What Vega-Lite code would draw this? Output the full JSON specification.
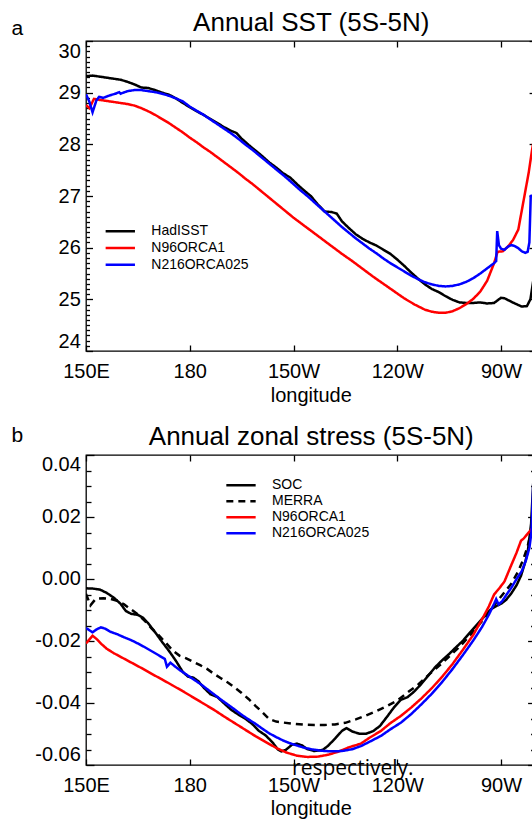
{
  "$schema": "https://vega.github.io/schema/vega-lite/v6.json",
  "background": "white",
  "padding": {"left": 10, "top": 8, "right": 0, "bottom": 0},
  "spacing": 16,
  "datasets": {
    "sst": [
      {"series": "HadISST", "lon": 150, "sst": 29.32}, {"series": "HadISST", "lon": 152, "sst": 29.33}, {"series": "HadISST", "lon": 154, "sst": 29.31},
      {"series": "HadISST", "lon": 156, "sst": 29.29}, {"series": "HadISST", "lon": 158, "sst": 29.27}, {"series": "HadISST", "lon": 160, "sst": 29.25},
      {"series": "HadISST", "lon": 162, "sst": 29.21}, {"series": "HadISST", "lon": 164, "sst": 29.16}, {"series": "HadISST", "lon": 166, "sst": 29.10},
      {"series": "HadISST", "lon": 168, "sst": 29.09}, {"series": "HadISST", "lon": 170, "sst": 29.05}, {"series": "HadISST", "lon": 172, "sst": 29.00},
      {"series": "HadISST", "lon": 174, "sst": 28.96}, {"series": "HadISST", "lon": 176, "sst": 28.89}, {"series": "HadISST", "lon": 178, "sst": 28.80},
      {"series": "HadISST", "lon": 180, "sst": 28.72}, {"series": "HadISST", "lon": 182, "sst": 28.64}, {"series": "HadISST", "lon": 184, "sst": 28.57},
      {"series": "HadISST", "lon": 186, "sst": 28.49}, {"series": "HadISST", "lon": 188, "sst": 28.41}, {"series": "HadISST", "lon": 190, "sst": 28.33},
      {"series": "HadISST", "lon": 192, "sst": 28.26}, {"series": "HadISST", "lon": 193.5, "sst": 28.22}, {"series": "HadISST", "lon": 195, "sst": 28.11},
      {"series": "HadISST", "lon": 197, "sst": 27.99}, {"series": "HadISST", "lon": 199, "sst": 27.88}, {"series": "HadISST", "lon": 201, "sst": 27.77},
      {"series": "HadISST", "lon": 203, "sst": 27.65}, {"series": "HadISST", "lon": 205, "sst": 27.55}, {"series": "HadISST", "lon": 207, "sst": 27.44},
      {"series": "HadISST", "lon": 209, "sst": 27.36}, {"series": "HadISST", "lon": 211, "sst": 27.23}, {"series": "HadISST", "lon": 213, "sst": 27.11},
      {"series": "HadISST", "lon": 215, "sst": 27.00}, {"series": "HadISST", "lon": 217, "sst": 26.84}, {"series": "HadISST", "lon": 219, "sst": 26.70},
      {"series": "HadISST", "lon": 221, "sst": 26.69}, {"series": "HadISST", "lon": 222.5, "sst": 26.66}, {"series": "HadISST", "lon": 224, "sst": 26.51},
      {"series": "HadISST", "lon": 226, "sst": 26.38}, {"series": "HadISST", "lon": 228, "sst": 26.26}, {"series": "HadISST", "lon": 230, "sst": 26.17},
      {"series": "HadISST", "lon": 232, "sst": 26.10}, {"series": "HadISST", "lon": 234, "sst": 26.04}, {"series": "HadISST", "lon": 236, "sst": 25.96},
      {"series": "HadISST", "lon": 238, "sst": 25.88}, {"series": "HadISST", "lon": 240, "sst": 25.77}, {"series": "HadISST", "lon": 242, "sst": 25.65},
      {"series": "HadISST", "lon": 244, "sst": 25.52}, {"series": "HadISST", "lon": 246, "sst": 25.40}, {"series": "HadISST", "lon": 248, "sst": 25.29},
      {"series": "HadISST", "lon": 250, "sst": 25.20}, {"series": "HadISST", "lon": 252, "sst": 25.14}, {"series": "HadISST", "lon": 254, "sst": 25.06},
      {"series": "HadISST", "lon": 256, "sst": 24.99}, {"series": "HadISST", "lon": 258, "sst": 24.94}, {"series": "HadISST", "lon": 260, "sst": 24.93},
      {"series": "HadISST", "lon": 262, "sst": 24.93}, {"series": "HadISST", "lon": 264, "sst": 24.94}, {"series": "HadISST", "lon": 266, "sst": 24.92},
      {"series": "HadISST", "lon": 268, "sst": 24.93}, {"series": "HadISST", "lon": 270, "sst": 25.03}, {"series": "HadISST", "lon": 271, "sst": 25.02},
      {"series": "HadISST", "lon": 272.5, "sst": 24.97}, {"series": "HadISST", "lon": 274, "sst": 24.92}, {"series": "HadISST", "lon": 276, "sst": 24.86},
      {"series": "HadISST", "lon": 277.5, "sst": 24.87}, {"series": "HadISST", "lon": 278.5, "sst": 25.00}, {"series": "HadISST", "lon": 279.3, "sst": 25.35},
      {"series": "HadISST", "lon": 280, "sst": 25.80},

      {"series": "N96ORCA1", "lon": 150, "sst": 28.76}, {"series": "N96ORCA1", "lon": 151, "sst": 28.70}, {"series": "N96ORCA1", "lon": 152.3, "sst": 28.88},
      {"series": "N96ORCA1", "lon": 154, "sst": 28.86}, {"series": "N96ORCA1", "lon": 156, "sst": 28.84}, {"series": "N96ORCA1", "lon": 158, "sst": 28.82},
      {"series": "N96ORCA1", "lon": 160, "sst": 28.80}, {"series": "N96ORCA1", "lon": 162, "sst": 28.78}, {"series": "N96ORCA1", "lon": 164, "sst": 28.75},
      {"series": "N96ORCA1", "lon": 166, "sst": 28.70}, {"series": "N96ORCA1", "lon": 168, "sst": 28.64}, {"series": "N96ORCA1", "lon": 170, "sst": 28.57},
      {"series": "N96ORCA1", "lon": 172, "sst": 28.49}, {"series": "N96ORCA1", "lon": 174, "sst": 28.41}, {"series": "N96ORCA1", "lon": 176, "sst": 28.32},
      {"series": "N96ORCA1", "lon": 178, "sst": 28.23}, {"series": "N96ORCA1", "lon": 180, "sst": 28.13}, {"series": "N96ORCA1", "lon": 182, "sst": 28.04},
      {"series": "N96ORCA1", "lon": 184, "sst": 27.94}, {"series": "N96ORCA1", "lon": 186, "sst": 27.85}, {"series": "N96ORCA1", "lon": 188, "sst": 27.75},
      {"series": "N96ORCA1", "lon": 190, "sst": 27.65}, {"series": "N96ORCA1", "lon": 192, "sst": 27.55}, {"series": "N96ORCA1", "lon": 194, "sst": 27.45},
      {"series": "N96ORCA1", "lon": 196, "sst": 27.34}, {"series": "N96ORCA1", "lon": 198, "sst": 27.24}, {"series": "N96ORCA1", "lon": 200, "sst": 27.13},
      {"series": "N96ORCA1", "lon": 202, "sst": 27.02}, {"series": "N96ORCA1", "lon": 204, "sst": 26.91}, {"series": "N96ORCA1", "lon": 206, "sst": 26.80},
      {"series": "N96ORCA1", "lon": 208, "sst": 26.69}, {"series": "N96ORCA1", "lon": 210, "sst": 26.58}, {"series": "N96ORCA1", "lon": 212, "sst": 26.48},
      {"series": "N96ORCA1", "lon": 215, "sst": 26.33}, {"series": "N96ORCA1", "lon": 218, "sst": 26.18}, {"series": "N96ORCA1", "lon": 221, "sst": 26.03},
      {"series": "N96ORCA1", "lon": 224, "sst": 25.88}, {"series": "N96ORCA1", "lon": 227, "sst": 25.74}, {"series": "N96ORCA1", "lon": 230, "sst": 25.59},
      {"series": "N96ORCA1", "lon": 233, "sst": 25.44}, {"series": "N96ORCA1", "lon": 236, "sst": 25.30}, {"series": "N96ORCA1", "lon": 239, "sst": 25.16},
      {"series": "N96ORCA1", "lon": 242, "sst": 25.02}, {"series": "N96ORCA1", "lon": 245, "sst": 24.90}, {"series": "N96ORCA1", "lon": 248, "sst": 24.80},
      {"series": "N96ORCA1", "lon": 250, "sst": 24.76}, {"series": "N96ORCA1", "lon": 252, "sst": 24.74}, {"series": "N96ORCA1", "lon": 254, "sst": 24.74},
      {"series": "N96ORCA1", "lon": 256, "sst": 24.77}, {"series": "N96ORCA1", "lon": 258, "sst": 24.83}, {"series": "N96ORCA1", "lon": 260, "sst": 24.91},
      {"series": "N96ORCA1", "lon": 262, "sst": 25.01}, {"series": "N96ORCA1", "lon": 264, "sst": 25.15}, {"series": "N96ORCA1", "lon": 266, "sst": 25.36},
      {"series": "N96ORCA1", "lon": 268, "sst": 25.70}, {"series": "N96ORCA1", "lon": 269, "sst": 25.92}, {"series": "N96ORCA1", "lon": 270.5, "sst": 25.93},
      {"series": "N96ORCA1", "lon": 272, "sst": 26.02}, {"series": "N96ORCA1", "lon": 273.5, "sst": 26.15}, {"series": "N96ORCA1", "lon": 275, "sst": 26.35},
      {"series": "N96ORCA1", "lon": 276.5, "sst": 26.90}, {"series": "N96ORCA1", "lon": 278, "sst": 27.45}, {"series": "N96ORCA1", "lon": 279, "sst": 27.90},
      {"series": "N96ORCA1", "lon": 280, "sst": 28.30},

      {"series": "N216ORCA025", "lon": 150, "sst": 28.97}, {"series": "N216ORCA025", "lon": 151, "sst": 28.82}, {"series": "N216ORCA025", "lon": 151.9, "sst": 28.62},
      {"series": "N216ORCA025", "lon": 153, "sst": 28.85}, {"series": "N216ORCA025", "lon": 153.8, "sst": 28.92}, {"series": "N216ORCA025", "lon": 155, "sst": 28.90},
      {"series": "N216ORCA025", "lon": 157, "sst": 28.95}, {"series": "N216ORCA025", "lon": 158.5, "sst": 28.98}, {"series": "N216ORCA025", "lon": 159.6, "sst": 29.01},
      {"series": "N216ORCA025", "lon": 160, "sst": 28.98}, {"series": "N216ORCA025", "lon": 162, "sst": 29.03}, {"series": "N216ORCA025", "lon": 164, "sst": 29.05},
      {"series": "N216ORCA025", "lon": 166, "sst": 29.05}, {"series": "N216ORCA025", "lon": 168, "sst": 29.03}, {"series": "N216ORCA025", "lon": 170, "sst": 29.01},
      {"series": "N216ORCA025", "lon": 172, "sst": 28.98}, {"series": "N216ORCA025", "lon": 174, "sst": 28.94}, {"series": "N216ORCA025", "lon": 176, "sst": 28.89},
      {"series": "N216ORCA025", "lon": 177, "sst": 28.86}, {"series": "N216ORCA025", "lon": 178, "sst": 28.83}, {"series": "N216ORCA025", "lon": 180, "sst": 28.73},
      {"series": "N216ORCA025", "lon": 182, "sst": 28.65}, {"series": "N216ORCA025", "lon": 184, "sst": 28.57}, {"series": "N216ORCA025", "lon": 186, "sst": 28.48},
      {"series": "N216ORCA025", "lon": 188, "sst": 28.39}, {"series": "N216ORCA025", "lon": 190, "sst": 28.30}, {"series": "N216ORCA025", "lon": 192, "sst": 28.21},
      {"series": "N216ORCA025", "lon": 194, "sst": 28.11}, {"series": "N216ORCA025", "lon": 196, "sst": 28.00}, {"series": "N216ORCA025", "lon": 198, "sst": 27.90},
      {"series": "N216ORCA025", "lon": 200, "sst": 27.79}, {"series": "N216ORCA025", "lon": 202, "sst": 27.68}, {"series": "N216ORCA025", "lon": 204, "sst": 27.57},
      {"series": "N216ORCA025", "lon": 206, "sst": 27.46}, {"series": "N216ORCA025", "lon": 208, "sst": 27.35}, {"series": "N216ORCA025", "lon": 210, "sst": 27.23},
      {"series": "N216ORCA025", "lon": 212, "sst": 27.11}, {"series": "N216ORCA025", "lon": 214, "sst": 27.00}, {"series": "N216ORCA025", "lon": 216, "sst": 26.88},
      {"series": "N216ORCA025", "lon": 218, "sst": 26.76}, {"series": "N216ORCA025", "lon": 220, "sst": 26.64}, {"series": "N216ORCA025", "lon": 222, "sst": 26.52},
      {"series": "N216ORCA025", "lon": 224, "sst": 26.40}, {"series": "N216ORCA025", "lon": 226, "sst": 26.29}, {"series": "N216ORCA025", "lon": 228, "sst": 26.18},
      {"series": "N216ORCA025", "lon": 230, "sst": 26.08}, {"series": "N216ORCA025", "lon": 232, "sst": 25.98}, {"series": "N216ORCA025", "lon": 234, "sst": 25.89},
      {"series": "N216ORCA025", "lon": 236, "sst": 25.79}, {"series": "N216ORCA025", "lon": 238, "sst": 25.70}, {"series": "N216ORCA025", "lon": 240, "sst": 25.62},
      {"series": "N216ORCA025", "lon": 242, "sst": 25.54}, {"series": "N216ORCA025", "lon": 244, "sst": 25.46}, {"series": "N216ORCA025", "lon": 246, "sst": 25.39},
      {"series": "N216ORCA025", "lon": 248, "sst": 25.33}, {"series": "N216ORCA025", "lon": 250, "sst": 25.29}, {"series": "N216ORCA025", "lon": 252, "sst": 25.26},
      {"series": "N216ORCA025", "lon": 254, "sst": 25.25}, {"series": "N216ORCA025", "lon": 256, "sst": 25.26}, {"series": "N216ORCA025", "lon": 258, "sst": 25.29},
      {"series": "N216ORCA025", "lon": 260, "sst": 25.34}, {"series": "N216ORCA025", "lon": 262, "sst": 25.41}, {"series": "N216ORCA025", "lon": 264, "sst": 25.50},
      {"series": "N216ORCA025", "lon": 266, "sst": 25.60}, {"series": "N216ORCA025", "lon": 268, "sst": 25.70}, {"series": "N216ORCA025", "lon": 268.6, "sst": 25.74},
      {"series": "N216ORCA025", "lon": 268.9, "sst": 26.32}, {"series": "N216ORCA025", "lon": 269.4, "sst": 26.05}, {"series": "N216ORCA025", "lon": 270, "sst": 25.98},
      {"series": "N216ORCA025", "lon": 271, "sst": 25.96}, {"series": "N216ORCA025", "lon": 272, "sst": 26.02}, {"series": "N216ORCA025", "lon": 273, "sst": 26.05},
      {"series": "N216ORCA025", "lon": 274, "sst": 26.03}, {"series": "N216ORCA025", "lon": 275, "sst": 25.99}, {"series": "N216ORCA025", "lon": 276, "sst": 25.93},
      {"series": "N216ORCA025", "lon": 277, "sst": 25.90}, {"series": "N216ORCA025", "lon": 277.7, "sst": 25.92}, {"series": "N216ORCA025", "lon": 278.2, "sst": 26.10},
      {"series": "N216ORCA025", "lon": 278.6, "sst": 27.00}, {"series": "N216ORCA025", "lon": 280, "sst": 27.02}
    ],
    "tau": [
      {"series": "SOC", "lon": 150, "stress": -0.0030}, {"series": "SOC", "lon": 152, "stress": -0.0031}, {"series": "SOC", "lon": 154, "stress": -0.0034},
      {"series": "SOC", "lon": 156, "stress": -0.0045}, {"series": "SOC", "lon": 158, "stress": -0.0060}, {"series": "SOC", "lon": 160, "stress": -0.0080},
      {"series": "SOC", "lon": 161.5, "stress": -0.0103}, {"series": "SOC", "lon": 163, "stress": -0.0112}, {"series": "SOC", "lon": 165, "stress": -0.0116},
      {"series": "SOC", "lon": 166.5, "stress": -0.0125}, {"series": "SOC", "lon": 168, "stress": -0.0143}, {"series": "SOC", "lon": 170, "stress": -0.0172},
      {"series": "SOC", "lon": 172, "stress": -0.0203}, {"series": "SOC", "lon": 174, "stress": -0.0232}, {"series": "SOC", "lon": 176, "stress": -0.0264},
      {"series": "SOC", "lon": 178, "stress": -0.0300}, {"series": "SOC", "lon": 179.5, "stress": -0.0315}, {"series": "SOC", "lon": 181, "stress": -0.0318},
      {"series": "SOC", "lon": 182.5, "stress": -0.0330}, {"series": "SOC", "lon": 184, "stress": -0.0350}, {"series": "SOC", "lon": 186, "stress": -0.0372},
      {"series": "SOC", "lon": 188, "stress": -0.0381}, {"series": "SOC", "lon": 190, "stress": -0.0402}, {"series": "SOC", "lon": 192, "stress": -0.0422},
      {"series": "SOC", "lon": 194, "stress": -0.0437}, {"series": "SOC", "lon": 196, "stress": -0.0450}, {"series": "SOC", "lon": 198, "stress": -0.0467},
      {"series": "SOC", "lon": 200, "stress": -0.0490}, {"series": "SOC", "lon": 202, "stress": -0.0505}, {"series": "SOC", "lon": 204, "stress": -0.0528},
      {"series": "SOC", "lon": 205.5, "stress": -0.0550}, {"series": "SOC", "lon": 206.5, "stress": -0.0556}, {"series": "SOC", "lon": 207.8, "stress": -0.0551},
      {"series": "SOC", "lon": 209.5, "stress": -0.0535}, {"series": "SOC", "lon": 211, "stress": -0.0531}, {"series": "SOC", "lon": 212.5, "stress": -0.0537},
      {"series": "SOC", "lon": 214, "stress": -0.0549}, {"series": "SOC", "lon": 216, "stress": -0.0555}, {"series": "SOC", "lon": 218.5, "stress": -0.0551},
      {"series": "SOC", "lon": 220, "stress": -0.0538}, {"series": "SOC", "lon": 222, "stress": -0.0515}, {"series": "SOC", "lon": 224, "stress": -0.0490},
      {"series": "SOC", "lon": 225.3, "stress": -0.0481}, {"series": "SOC", "lon": 227, "stress": -0.0492}, {"series": "SOC", "lon": 229, "stress": -0.0499},
      {"series": "SOC", "lon": 231, "stress": -0.0499}, {"series": "SOC", "lon": 233, "stress": -0.0491}, {"series": "SOC", "lon": 235, "stress": -0.0474},
      {"series": "SOC", "lon": 237, "stress": -0.0445}, {"series": "SOC", "lon": 239, "stress": -0.0415}, {"series": "SOC", "lon": 241, "stress": -0.0390},
      {"series": "SOC", "lon": 243, "stress": -0.0381}, {"series": "SOC", "lon": 245, "stress": -0.0362}, {"series": "SOC", "lon": 247, "stress": -0.0338},
      {"series": "SOC", "lon": 249, "stress": -0.0311}, {"series": "SOC", "lon": 251, "stress": -0.0284}, {"series": "SOC", "lon": 253, "stress": -0.0262},
      {"series": "SOC", "lon": 255, "stress": -0.0242}, {"series": "SOC", "lon": 257, "stress": -0.0220}, {"series": "SOC", "lon": 259, "stress": -0.0199},
      {"series": "SOC", "lon": 261, "stress": -0.0173}, {"series": "SOC", "lon": 263, "stress": -0.0148}, {"series": "SOC", "lon": 265, "stress": -0.0123},
      {"series": "SOC", "lon": 267, "stress": -0.0098}, {"series": "SOC", "lon": 268.5, "stress": -0.0088}, {"series": "SOC", "lon": 270, "stress": -0.0080},
      {"series": "SOC", "lon": 271.5, "stress": -0.0067}, {"series": "SOC", "lon": 273, "stress": -0.0046}, {"series": "SOC", "lon": 274.5, "stress": -0.0020},
      {"series": "SOC", "lon": 275.8, "stress": 0.0011}, {"series": "SOC", "lon": 277, "stress": 0.0055}, {"series": "SOC", "lon": 277.7, "stress": 0.0086},
      {"series": "SOC", "lon": 278.7, "stress": 0.0178}, {"series": "SOC", "lon": 279.3, "stress": 0.0307}, {"series": "SOC", "lon": 280, "stress": 0.0450},

      {"series": "MERRA", "lon": 150, "stress": -0.0048}, {"series": "MERRA", "lon": 151.3, "stress": -0.0085}, {"series": "MERRA", "lon": 152.8, "stress": -0.0064},
      {"series": "MERRA", "lon": 155, "stress": -0.0062}, {"series": "MERRA", "lon": 157, "stress": -0.0064}, {"series": "MERRA", "lon": 159, "stress": -0.0070},
      {"series": "MERRA", "lon": 161, "stress": -0.0082}, {"series": "MERRA", "lon": 163, "stress": -0.0098}, {"series": "MERRA", "lon": 165, "stress": -0.0114},
      {"series": "MERRA", "lon": 167, "stress": -0.0135}, {"series": "MERRA", "lon": 169, "stress": -0.0160}, {"series": "MERRA", "lon": 171, "stress": -0.0181},
      {"series": "MERRA", "lon": 173, "stress": -0.0205}, {"series": "MERRA", "lon": 175, "stress": -0.0230}, {"series": "MERRA", "lon": 177, "stress": -0.0247},
      {"series": "MERRA", "lon": 179, "stress": -0.0256}, {"series": "MERRA", "lon": 181, "stress": -0.0267}, {"series": "MERRA", "lon": 183, "stress": -0.0278},
      {"series": "MERRA", "lon": 185, "stress": -0.0290}, {"series": "MERRA", "lon": 187, "stress": -0.0306}, {"series": "MERRA", "lon": 189, "stress": -0.0320},
      {"series": "MERRA", "lon": 191, "stress": -0.0334}, {"series": "MERRA", "lon": 193, "stress": -0.0350}, {"series": "MERRA", "lon": 195, "stress": -0.0368},
      {"series": "MERRA", "lon": 197, "stress": -0.0387}, {"series": "MERRA", "lon": 199, "stress": -0.0409}, {"series": "MERRA", "lon": 201, "stress": -0.0430},
      {"series": "MERRA", "lon": 203, "stress": -0.0452}, {"series": "MERRA", "lon": 205, "stress": -0.0460}, {"series": "MERRA", "lon": 207, "stress": -0.0463},
      {"series": "MERRA", "lon": 210, "stress": -0.0467}, {"series": "MERRA", "lon": 213, "stress": -0.0470}, {"series": "MERRA", "lon": 216, "stress": -0.0471},
      {"series": "MERRA", "lon": 219, "stress": -0.0471}, {"series": "MERRA", "lon": 222, "stress": -0.0469}, {"series": "MERRA", "lon": 225, "stress": -0.0464},
      {"series": "MERRA", "lon": 228, "stress": -0.0453}, {"series": "MERRA", "lon": 231, "stress": -0.0440}, {"series": "MERRA", "lon": 234, "stress": -0.0426},
      {"series": "MERRA", "lon": 237, "stress": -0.0410}, {"series": "MERRA", "lon": 240, "stress": -0.0392}, {"series": "MERRA", "lon": 243, "stress": -0.0366},
      {"series": "MERRA", "lon": 246, "stress": -0.0341}, {"series": "MERRA", "lon": 249, "stress": -0.0310}, {"series": "MERRA", "lon": 252, "stress": -0.0281},
      {"series": "MERRA", "lon": 255, "stress": -0.0250}, {"series": "MERRA", "lon": 258, "stress": -0.0219}, {"series": "MERRA", "lon": 261, "stress": -0.0182},
      {"series": "MERRA", "lon": 264, "stress": -0.0143}, {"series": "MERRA", "lon": 267, "stress": -0.0100}, {"series": "MERRA", "lon": 269, "stress": -0.0070},
      {"series": "MERRA", "lon": 271, "stress": -0.0043}, {"series": "MERRA", "lon": 273, "stress": -0.0015}, {"series": "MERRA", "lon": 275, "stress": 0.0025},
      {"series": "MERRA", "lon": 276.5, "stress": 0.0065}, {"series": "MERRA", "lon": 277.7, "stress": 0.0105}, {"series": "MERRA", "lon": 278.7, "stress": 0.0155},
      {"series": "MERRA", "lon": 279.3, "stress": 0.0250}, {"series": "MERRA", "lon": 280, "stress": 0.0370},

      {"series": "N96ORCA1", "lon": 150, "stress": -0.0208}, {"series": "N96ORCA1", "lon": 151.9, "stress": -0.0183}, {"series": "N96ORCA1", "lon": 153, "stress": -0.0193},
      {"series": "N96ORCA1", "lon": 154.5, "stress": -0.0210}, {"series": "N96ORCA1", "lon": 156, "stress": -0.0225}, {"series": "N96ORCA1", "lon": 158, "stress": -0.0239},
      {"series": "N96ORCA1", "lon": 160, "stress": -0.0251}, {"series": "N96ORCA1", "lon": 163, "stress": -0.0269}, {"series": "N96ORCA1", "lon": 166, "stress": -0.0287},
      {"series": "N96ORCA1", "lon": 169, "stress": -0.0306}, {"series": "N96ORCA1", "lon": 172, "stress": -0.0324}, {"series": "N96ORCA1", "lon": 175, "stress": -0.0343},
      {"series": "N96ORCA1", "lon": 178, "stress": -0.0362}, {"series": "N96ORCA1", "lon": 181, "stress": -0.0382}, {"series": "N96ORCA1", "lon": 184, "stress": -0.0402},
      {"series": "N96ORCA1", "lon": 187, "stress": -0.0422}, {"series": "N96ORCA1", "lon": 190, "stress": -0.0444}, {"series": "N96ORCA1", "lon": 193, "stress": -0.0465},
      {"series": "N96ORCA1", "lon": 196, "stress": -0.0486}, {"series": "N96ORCA1", "lon": 199, "stress": -0.0507}, {"series": "N96ORCA1", "lon": 202, "stress": -0.0526},
      {"series": "N96ORCA1", "lon": 205, "stress": -0.0545}, {"series": "N96ORCA1", "lon": 208, "stress": -0.0560}, {"series": "N96ORCA1", "lon": 211, "stress": -0.0570},
      {"series": "N96ORCA1", "lon": 214, "stress": -0.0574}, {"series": "N96ORCA1", "lon": 217, "stress": -0.0573}, {"series": "N96ORCA1", "lon": 220, "stress": -0.0567},
      {"series": "N96ORCA1", "lon": 223, "stress": -0.0557}, {"series": "N96ORCA1", "lon": 226, "stress": -0.0543}, {"series": "N96ORCA1", "lon": 229.5, "stress": -0.0531},
      {"series": "N96ORCA1", "lon": 232, "stress": -0.0512}, {"series": "N96ORCA1", "lon": 235.3, "stress": -0.0490}, {"series": "N96ORCA1", "lon": 238, "stress": -0.0465},
      {"series": "N96ORCA1", "lon": 241, "stress": -0.0442}, {"series": "N96ORCA1", "lon": 244, "stress": -0.0415}, {"series": "N96ORCA1", "lon": 247, "stress": -0.0385},
      {"series": "N96ORCA1", "lon": 250, "stress": -0.0352}, {"series": "N96ORCA1", "lon": 253, "stress": -0.0315}, {"series": "N96ORCA1", "lon": 256, "stress": -0.0274},
      {"series": "N96ORCA1", "lon": 259, "stress": -0.0228}, {"series": "N96ORCA1", "lon": 262, "stress": -0.0180}, {"series": "N96ORCA1", "lon": 265, "stress": -0.0120},
      {"series": "N96ORCA1", "lon": 266.5, "stress": -0.0088}, {"series": "N96ORCA1", "lon": 268, "stress": -0.0050}, {"series": "N96ORCA1", "lon": 269.5, "stress": -0.0030},
      {"series": "N96ORCA1", "lon": 271, "stress": -0.0008}, {"series": "N96ORCA1", "lon": 272.9, "stress": 0.0043}, {"series": "N96ORCA1", "lon": 274.5, "stress": 0.0085},
      {"series": "N96ORCA1", "lon": 275.8, "stress": 0.0124}, {"series": "N96ORCA1", "lon": 276.5, "stress": 0.0130}, {"series": "N96ORCA1", "lon": 277.7, "stress": 0.0146},
      {"series": "N96ORCA1", "lon": 279.3, "stress": 0.0167}, {"series": "N96ORCA1", "lon": 280, "stress": 0.0185},

      {"series": "N216ORCA025", "lon": 150, "stress": -0.0158}, {"series": "N216ORCA025", "lon": 151.9, "stress": -0.0172}, {"series": "N216ORCA025", "lon": 153, "stress": -0.0163},
      {"series": "N216ORCA025", "lon": 154.3, "stress": -0.0156}, {"series": "N216ORCA025", "lon": 155.5, "stress": -0.0160}, {"series": "N216ORCA025", "lon": 157, "stress": -0.0170},
      {"series": "N216ORCA025", "lon": 159, "stress": -0.0178}, {"series": "N216ORCA025", "lon": 161, "stress": -0.0188}, {"series": "N216ORCA025", "lon": 163, "stress": -0.0197},
      {"series": "N216ORCA025", "lon": 165, "stress": -0.0208}, {"series": "N216ORCA025", "lon": 167, "stress": -0.0220}, {"series": "N216ORCA025", "lon": 169, "stress": -0.0233},
      {"series": "N216ORCA025", "lon": 171, "stress": -0.0246}, {"series": "N216ORCA025", "lon": 172.8, "stress": -0.0258}, {"series": "N216ORCA025", "lon": 173.4, "stress": -0.0283},
      {"series": "N216ORCA025", "lon": 174.4, "stress": -0.0270}, {"series": "N216ORCA025", "lon": 175.5, "stress": -0.0280}, {"series": "N216ORCA025", "lon": 177, "stress": -0.0293},
      {"series": "N216ORCA025", "lon": 179, "stress": -0.0308}, {"series": "N216ORCA025", "lon": 181, "stress": -0.0323}, {"series": "N216ORCA025", "lon": 183, "stress": -0.0338},
      {"series": "N216ORCA025", "lon": 185, "stress": -0.0355}, {"series": "N216ORCA025", "lon": 187, "stress": -0.0372}, {"series": "N216ORCA025", "lon": 189, "stress": -0.0389},
      {"series": "N216ORCA025", "lon": 191, "stress": -0.0405}, {"series": "N216ORCA025", "lon": 193, "stress": -0.0421}, {"series": "N216ORCA025", "lon": 195, "stress": -0.0438},
      {"series": "N216ORCA025", "lon": 197, "stress": -0.0453}, {"series": "N216ORCA025", "lon": 199, "stress": -0.0467}, {"series": "N216ORCA025", "lon": 201, "stress": -0.0483},
      {"series": "N216ORCA025", "lon": 203, "stress": -0.0498}, {"series": "N216ORCA025", "lon": 205, "stress": -0.0510}, {"series": "N216ORCA025", "lon": 207, "stress": -0.0521},
      {"series": "N216ORCA025", "lon": 209, "stress": -0.0530}, {"series": "N216ORCA025", "lon": 211, "stress": -0.0537}, {"series": "N216ORCA025", "lon": 213, "stress": -0.0544},
      {"series": "N216ORCA025", "lon": 215, "stress": -0.0549}, {"series": "N216ORCA025", "lon": 218, "stress": -0.0554}, {"series": "N216ORCA025", "lon": 221, "stress": -0.0556},
      {"series": "N216ORCA025", "lon": 224, "stress": -0.0555}, {"series": "N216ORCA025", "lon": 227, "stress": -0.0549}, {"series": "N216ORCA025", "lon": 229.5, "stress": -0.0539},
      {"series": "N216ORCA025", "lon": 232, "stress": -0.0525}, {"series": "N216ORCA025", "lon": 235.3, "stress": -0.0506}, {"series": "N216ORCA025", "lon": 238, "stress": -0.0485},
      {"series": "N216ORCA025", "lon": 241.1, "stress": -0.0463}, {"series": "N216ORCA025", "lon": 244, "stress": -0.0436}, {"series": "N216ORCA025", "lon": 247, "stress": -0.0404},
      {"series": "N216ORCA025", "lon": 250, "stress": -0.0370}, {"series": "N216ORCA025", "lon": 253, "stress": -0.0332}, {"series": "N216ORCA025", "lon": 256, "stress": -0.0290},
      {"series": "N216ORCA025", "lon": 259, "stress": -0.0245}, {"series": "N216ORCA025", "lon": 262, "stress": -0.0198}, {"series": "N216ORCA025", "lon": 264.5, "stress": -0.0155},
      {"series": "N216ORCA025", "lon": 266.5, "stress": -0.0115}, {"series": "N216ORCA025", "lon": 268, "stress": -0.0080}, {"series": "N216ORCA025", "lon": 268.6, "stress": -0.0065},
      {"series": "N216ORCA025", "lon": 269.3, "stress": -0.0082}, {"series": "N216ORCA025", "lon": 270.3, "stress": -0.0072}, {"series": "N216ORCA025", "lon": 271.5, "stress": -0.0052},
      {"series": "N216ORCA025", "lon": 273, "stress": -0.0028}, {"series": "N216ORCA025", "lon": 274.5, "stress": 0.0000}, {"series": "N216ORCA025", "lon": 276, "stress": 0.0025},
      {"series": "N216ORCA025", "lon": 277.2, "stress": 0.0060}, {"series": "N216ORCA025", "lon": 278.2, "stress": 0.0100}, {"series": "N216ORCA025", "lon": 278.8, "stress": 0.0150},
      {"series": "N216ORCA025", "lon": 279.3, "stress": 0.0300}, {"series": "N216ORCA025", "lon": 279.7, "stress": 0.0450}
    ],
    "notes": [{"note": "respectively."}]
  },
  "vconcat": [
    {
      "width": 449.6,
      "height": 310,
      "data": {"name": "sst"},
      "resolve": {"axis": {"x": "independent", "y": "independent"}},
      "layer": [
        {
          "mark": {"type": "line", "strokeWidth": 2.5, "clip": true},
          "encoding": {
            "x": {"field": "lon", "type": "quantitative", "scale": {"domain": [150, 280], "nice": false, "zero": false},
              "axis": {"orient": "bottom", "values": [150, 180, 210, 240, 270], "labelExpr": "datum.value == 150 ? '150E' : datum.value == 180 ? '180' : (360 - datum.value) + 'W'",
                "ticks": false, "tickSize": 0, "labelPadding": 26.7, "labelBaseline": "alphabetic", "labelFlush": false, "labelOverlap": false,
                "title": "longitude", "titleFontSize": 20, "titleBaseline": "alphabetic", "titleY": 50}},
            "y": {"field": "sst", "type": "quantitative", "scale": {"domain": [24, 30], "nice": false, "zero": false},
              "axis": {"orient": "left", "values": [24, 25, 26, 27, 28, 29, 30], "format": "d", "ticks": false, "tickSize": 0, "labelPadding": 5.7, "labelFlush": true, "labelOverlap": false,
                "title": "a", "titleAngle": 0, "titleAlign": "left", "titleBaseline": "alphabetic", "titleX": -75, "titleY": -6.7, "titleFontSize": 21}},
            "color": {"field": "series", "type": "nominal",
              "scale": {"domain": ["HadISST", "N96ORCA1", "N216ORCA025"], "range": ["#000000", "#ff0000", "#0000ff"]},
              "legend": {"orient": "none", "legendX": 18.3, "legendY": 182.5, "title": null, "symbolType": "stroke", "symbolSize": 860, "symbolStrokeWidth": 2.5,
                "labelFontSize": 14, "labelOffset": 15, "clipHeight": 15.6, "rowPadding": 0.7, "padding": 0}},
            "strokeDash": {"field": "series", "type": "nominal",
              "scale": {"domain": ["HadISST", "N96ORCA1", "N216ORCA025"], "range": [[1, 0], [1, 0], [1, 0]]},
              "legend": {"orient": "none", "legendX": 18.3, "legendY": 182.5, "title": null, "symbolType": "stroke", "symbolSize": 860, "symbolStrokeWidth": 2.5,
                "labelFontSize": 14, "labelOffset": 15, "clipHeight": 15.6, "rowPadding": 0.7, "padding": 0}}
          }
        },
        {
          "mark": {"type": "point", "opacity": 0},
          "encoding": {
            "x": {"field": "lon", "type": "quantitative", "scale": {"domain": [150, 280], "nice": false, "zero": false},
              "axis": {"orient": "bottom", "offset": -310, "values": [150, 180, 210, 240, 270], "tickSize": 6, "labels": false,
                "title": "Annual SST (5S-5N)", "titleFontSize": 26, "titleBaseline": "alphabetic", "titleY": -11}},
            "y": {"field": "sst", "type": "quantitative", "scale": {"domain": [24, 30], "nice": false, "zero": false},
              "axis": {"orient": "right", "offset": -449.6, "values": [24, 25, 26, 27, 28, 29, 30], "tickSize": 6.5, "labels": false, "title": null}}
          }
        },
        {
          "mark": {"type": "point", "opacity": 0},
          "encoding": {
            "x": {"field": "lon", "type": "quantitative", "scale": {"domain": [150, 280], "nice": false, "zero": false},
              "axis": {"orient": "top", "offset": -310, "values": [150, 180, 210, 240, 270], "tickSize": 6, "labels": false, "title": null}},
            "y": {"field": "sst", "type": "quantitative", "scale": {"domain": [24, 30], "nice": false, "zero": false},
              "axis": {"orient": "right", "offset": -449.6, "tickSize": 3.5, "labels": false, "title": null,
                "values": [24.1, 24.2, 24.3, 24.4, 24.5, 24.6, 24.7, 24.8, 24.9, 25.1, 25.2, 25.3, 25.4, 25.5, 25.6, 25.7, 25.8, 25.9, 26.1, 26.2, 26.3, 26.4, 26.5, 26.6, 26.7, 26.8, 26.9, 27.1, 27.2, 27.3, 27.4, 27.5, 27.6, 27.7, 27.8, 27.9, 28.1, 28.2, 28.3, 28.4, 28.5, 28.6, 28.7, 28.8, 28.9, 29.1, 29.2, 29.3, 29.4, 29.5, 29.6, 29.7, 29.8, 29.9]}}
          }
        },
        {
          "mark": {"type": "point", "opacity": 0},
          "encoding": {
            "x": {"field": "lon", "type": "quantitative", "scale": {"domain": [150, 280], "nice": false, "zero": false}, "axis": null},
            "y": {"field": "sst", "type": "quantitative", "scale": {"domain": [24, 30], "nice": false, "zero": false},
              "axis": {"orient": "left", "offset": -449.6, "values": [24, 25, 26, 27, 28, 29, 30], "tickSize": 6.5, "labels": false, "title": null}}
          }
        },
        {
          "mark": {"type": "point", "opacity": 0},
          "encoding": {
            "x": {"field": "lon", "type": "quantitative", "scale": {"domain": [150, 280], "nice": false, "zero": false}, "axis": null},
            "y": {"field": "sst", "type": "quantitative", "scale": {"domain": [24, 30], "nice": false, "zero": false},
              "axis": {"orient": "left", "offset": -449.6, "tickSize": 3.5, "labels": false, "title": null,
                "values": [24.1, 24.2, 24.3, 24.4, 24.5, 24.6, 24.7, 24.8, 24.9, 25.1, 25.2, 25.3, 25.4, 25.5, 25.6, 25.7, 25.8, 25.9, 26.1, 26.2, 26.3, 26.4, 26.5, 26.6, 26.7, 26.8, 26.9, 27.1, 27.2, 27.3, 27.4, 27.5, 27.6, 27.7, 27.8, 27.9, 28.1, 28.2, 28.3, 28.4, 28.5, 28.6, 28.7, 28.8, 28.9, 29.1, 29.2, 29.3, 29.4, 29.5, 29.6, 29.7, 29.8, 29.9]}}
          }
        }
      ]
    },
    {
      "width": 449.6,
      "height": 310,
      "data": {"name": "tau"},
      "resolve": {"axis": {"x": "independent", "y": "independent"}},
      "layer": [
        {
          "mark": {"type": "line", "strokeWidth": 2.5, "clip": true},
          "encoding": {
            "x": {"field": "lon", "type": "quantitative", "scale": {"domain": [150, 280], "nice": false, "zero": false},
              "axis": {"orient": "bottom", "values": [150, 180, 210, 240, 270], "labelExpr": "datum.value == 150 ? '150E' : datum.value == 180 ? '180' : (360 - datum.value) + 'W'",
                "ticks": false, "tickSize": 0, "labelPadding": 26.7, "labelBaseline": "alphabetic", "labelFlush": false, "labelOverlap": false,
                "title": "longitude", "titleFontSize": 20, "titleBaseline": "alphabetic", "titleY": 50}},
            "y": {"field": "stress", "type": "quantitative", "scale": {"domain": [-0.06, 0.04], "nice": false, "zero": false},
              "axis": {"orient": "left", "values": [-0.06, -0.04, -0.02, 0, 0.02, 0.04], "labelExpr": "(datum.value < 0 ? '-' : '') + format(abs(datum.value), '.2f')",
                "ticks": false, "tickSize": 0, "labelPadding": 5.7, "labelFlush": true, "labelOverlap": false,
                "title": "b", "titleAngle": 0, "titleAlign": "left", "titleBaseline": "alphabetic", "titleX": -75, "titleY": -13, "titleFontSize": 21}},
            "color": {"field": "series", "type": "nominal",
              "scale": {"domain": ["SOC", "MERRA", "N96ORCA1", "N216ORCA025"], "range": ["#000000", "#000000", "#ff0000", "#0000ff"]},
              "legend": {"orient": "none", "legendX": 139, "legendY": 22.5, "title": null, "symbolType": "stroke", "symbolSize": 860, "symbolStrokeWidth": 2.5,
                "labelFontSize": 14, "labelOffset": 15, "clipHeight": 15.6, "rowPadding": 0, "padding": 0}},
            "strokeDash": {"field": "series", "type": "nominal",
              "scale": {"domain": ["SOC", "MERRA", "N96ORCA1", "N216ORCA025"], "range": [[1, 0], [7, 5], [1, 0], [1, 0]]},
              "legend": {"orient": "none", "legendX": 139, "legendY": 22.5, "title": null, "symbolType": "stroke", "symbolSize": 860, "symbolStrokeWidth": 2.5,
                "labelFontSize": 14, "labelOffset": 15, "clipHeight": 15.6, "rowPadding": 0, "padding": 0}}
          }
        },
        {
          "mark": {"type": "point", "opacity": 0},
          "encoding": {
            "x": {"field": "lon", "type": "quantitative", "scale": {"domain": [150, 280], "nice": false, "zero": false},
              "axis": {"orient": "bottom", "offset": -310, "values": [150, 180, 210, 240, 270], "tickSize": 6, "labels": false,
                "title": "Annual zonal stress (5S-5N)", "titleFontSize": 26, "titleBaseline": "alphabetic", "titleY": -10.5}},
            "y": {"field": "stress", "type": "quantitative", "scale": {"domain": [-0.06, 0.04], "nice": false, "zero": false},
              "axis": {"orient": "right", "offset": -449.6, "values": [-0.06, -0.04, -0.02, 0, 0.02, 0.04], "tickSize": 8, "labels": false, "title": null}}
          }
        },
        {
          "mark": {"type": "point", "opacity": 0},
          "encoding": {
            "x": {"field": "lon", "type": "quantitative", "scale": {"domain": [150, 280], "nice": false, "zero": false},
              "axis": {"orient": "top", "offset": -310, "values": [150, 180, 210, 240, 270], "tickSize": 6, "labels": false, "title": null}},
            "y": {"field": "stress", "type": "quantitative", "scale": {"domain": [-0.06, 0.04], "nice": false, "zero": false},
              "axis": {"orient": "right", "offset": -449.6, "tickSize": 5, "labels": false, "title": null,
                "values": [-0.055, -0.05, -0.045, -0.035, -0.03, -0.025, -0.015, -0.01, -0.005, 0.005, 0.01, 0.015, 0.025, 0.03, 0.035]}}
          }
        },
        {
          "mark": {"type": "point", "opacity": 0},
          "encoding": {
            "x": {"field": "lon", "type": "quantitative", "scale": {"domain": [150, 280], "nice": false, "zero": false}, "axis": null},
            "y": {"field": "stress", "type": "quantitative", "scale": {"domain": [-0.06, 0.04], "nice": false, "zero": false},
              "axis": {"orient": "left", "offset": -449.6, "values": [-0.06, -0.04, -0.02, 0, 0.02, 0.04], "tickSize": 8, "labels": false, "title": null}}
          }
        },
        {
          "mark": {"type": "point", "opacity": 0},
          "encoding": {
            "x": {"field": "lon", "type": "quantitative", "scale": {"domain": [150, 280], "nice": false, "zero": false}, "axis": null},
            "y": {"field": "stress", "type": "quantitative", "scale": {"domain": [-0.06, 0.04], "nice": false, "zero": false},
              "axis": {"orient": "left", "offset": -449.6, "tickSize": 5, "labels": false, "title": null,
                "values": [-0.055, -0.05, -0.045, -0.035, -0.03, -0.025, -0.015, -0.01, -0.005, 0.005, 0.01, 0.015, 0.025, 0.03, 0.035]}}
          }
        },
        {
          "data": {"name": "notes"},
          "mark": {"type": "text", "font": "Open Sans", "fontSize": 21, "align": "left", "baseline": "alphabetic", "color": "#000000"},
          "encoding": {
            "x": {"datum": 209.6, "type": "quantitative", "scale": {"domain": [150, 280], "nice": false, "zero": false}, "axis": null},
            "y": {"datum": -0.0632, "type": "quantitative", "scale": {"domain": [-0.06, 0.04], "nice": false, "zero": false}, "axis": null},
            "text": {"field": "note", "type": "nominal"}
          }
        }
      ]
    }
  ],
  "resolve": {"scale": {"x": "independent", "y": "independent", "color": "independent", "strokeDash": "independent"}},
  "config": {
    "font": "Liberation Sans",
    "view": {"stroke": "#000000", "strokeWidth": 1.3},
    "axis": {"domain": false, "grid": false, "tickColor": "#000000", "tickWidth": 1.3,
      "labelColor": "#000000", "labelFont": "Liberation Sans", "labelFontSize": 20,
      "titleColor": "#000000", "titleFont": "Liberation Sans", "titleFontWeight": "normal", "titlePadding": 0},
    "legend": {"labelFont": "Liberation Sans", "labelColor": "#000000"},
    "text": {"font": "Liberation Sans"}
  }
}
